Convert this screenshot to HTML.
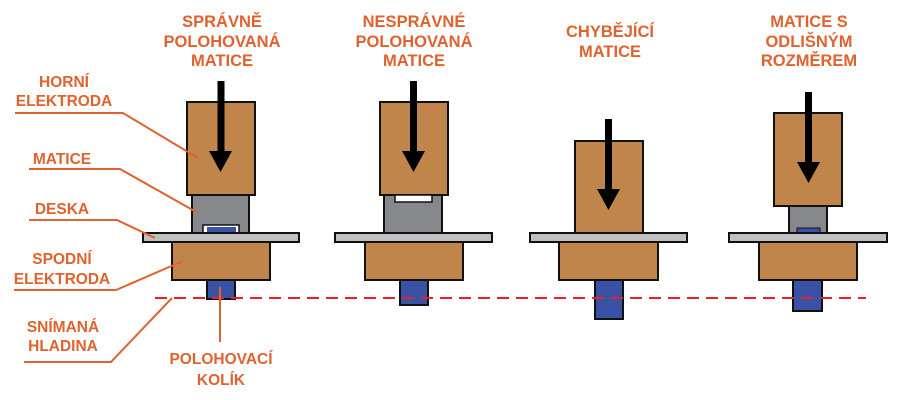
<!DOCTYPE html>
<html><head><meta charset="utf-8"><style>
html,body{margin:0;padding:0;background:#fff}
svg{display:block}
text{font-family:"Liberation Sans",sans-serif;font-weight:bold;font-size:15.5px;fill:#e0622e;text-anchor:middle}
text.t{font-size:16.5px}
</style></head><body>
<svg width="912" height="400" viewBox="0 0 912 400" xmlns="http://www.w3.org/2000/svg">
<g stroke="#111" stroke-width="2">
<rect x="187" y="102" width="68" height="93" fill="#c0854a"/>
<rect x="192" y="195" width="57" height="38" fill="#87888c"/>
<rect x="203" y="225" width="36" height="8" fill="#fff" stroke-width="1.5"/>
<rect x="207" y="227" width="29" height="6" fill="#3a52a5" stroke="none"/>
<rect x="143" y="233" width="156" height="9" fill="#c0c0c0"/>
<rect x="172" y="242" width="98" height="38" fill="#c0854a"/>
<rect x="207" y="280" width="28" height="19" fill="#3a52a5"/>
<rect x="380" y="102" width="68" height="93" fill="#c0854a"/>
<rect x="384" y="195" width="58" height="38" fill="#87888c"/>
<rect x="395" y="195" width="37" height="7" fill="#fff" stroke-width="1.5"/>
<rect x="335" y="233" width="157" height="9" fill="#c0c0c0"/>
<rect x="365" y="242" width="98" height="38" fill="#c0854a"/>
<rect x="400" y="280" width="28" height="25" fill="#3a52a5"/>
<rect x="575" y="141" width="68" height="92" fill="#c0854a"/>
<rect x="530" y="233" width="157" height="9" fill="#c0c0c0"/>
<rect x="559" y="242" width="99" height="38" fill="#c0854a"/>
<rect x="595" y="280" width="28" height="39" fill="#3a52a5"/>
<rect x="774" y="113" width="68" height="93" fill="#c0854a"/>
<rect x="789" y="206" width="38" height="27" fill="#87888c"/>
<rect x="797" y="228" width="23" height="5" fill="#3a52a5" stroke-width="1"/>
<rect x="729" y="233" width="158" height="9" fill="#c0c0c0"/>
<rect x="759" y="242" width="98" height="38" fill="#c0854a"/>
<rect x="793" y="280" width="29" height="31" fill="#3a52a5"/>
</g>
<g fill="#000">
<rect x="217.5" y="81" width="7" height="71"/><polygon points="209,151 232,151 220.5,172"/>
<rect x="410" y="81" width="7" height="71"/><polygon points="402,151 425,151 413.5,172"/>
<rect x="605" y="119" width="7" height="71"/><polygon points="597,189 620,189 608.5,210"/>
<rect x="805" y="92" width="7" height="71"/><polygon points="797,162 820,162 808.5,183"/>
</g>
<line x1="155" y1="298" x2="866" y2="298" stroke="#e8202a" stroke-width="2" stroke-dasharray="12,7"/>
<g stroke="#e0622e" stroke-width="2" fill="none">
<polyline points="15,113 123,113 198,158"/>
<polyline points="29,169 120,169 198,213"/>
<polyline points="29,220 117,220 155,238"/>
<polyline points="14,290 116,290 183,261"/>
<polyline points="24,362 111,362 172,298"/>
<line x1="220" y1="287" x2="220" y2="342"/>
</g>
<text x="64" y="87">HORNÍ</text>
<text x="64" y="106">ELEKTRODA</text>
<text x="62" y="164">MATICE</text>
<text x="62" y="214">DESKA</text>
<text x="62" y="264">SPODNÍ</text>
<text x="62" y="284">ELEKTRODA</text>
<text x="63" y="332">SNÍMANÁ</text>
<text x="63" y="351">HLADINA</text>
<text x="221" y="364">POLOHOVACÍ</text>
<text x="221" y="385">KOLÍK</text>
<text class="t" x="222" y="27">SPRÁVNĚ</text>
<text class="t" x="222" y="47">POLOHOVANÁ</text>
<text class="t" x="222" y="66">MATICE</text>
<text class="t" x="414" y="27">NESPRÁVNÉ</text>
<text class="t" x="414" y="47">POLOHOVANÁ</text>
<text class="t" x="414" y="66">MATICE</text>
<text class="t" x="610" y="37">CHYBĚJÍCÍ</text>
<text class="t" x="610" y="57">MATICE</text>
<text class="t" x="809" y="27">MATICE S</text>
<text class="t" x="809" y="47">ODLIŠNÝM</text>
<text class="t" x="809" y="66">ROZMĚREM</text>
</svg>
</body></html>
